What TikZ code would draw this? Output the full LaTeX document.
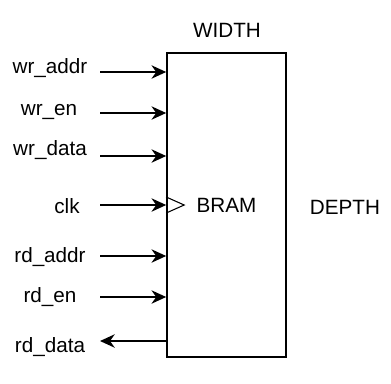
\documentclass[tikz,border=0pt]{standalone}
\usepackage{fontspec}
\setmainfont{Liberation Sans}
\usetikzlibrary{arrows.meta}
\usetikzlibrary{calc}

\begin{document}
\begin{tikzpicture}[x=0.75pt,y=-0.75pt,font=\fontsize{15.5}{18}\selectfont,
    sig/.style={line width=1.5pt,-{Stealth[length=11pt,width=10pt,inset=3.5pt]}}]
      \useasboundingbox (0,0) rectangle (391,383);
      \node[draw,line width=1.2pt,minimum width=89.25pt,minimum height=228pt,inner sep=0pt] (bram) at (226.5,205) {BRAM};
      \node (width) at (227,30) {WIDTH};
      \node (depth) at (345,207) {DEPTH};
      % port names
      \node (wraddr) at (50,68) {wr\_addr};
      \node (wren) at (49,112) {wr\_en};
      \node (wrdata) at (50,150) {wr\_data};
      \node (clk) at (67,206) {clk};
      \node (rdaddr) at (50,257) {rd\_addr};
      \node (rden) at (50,297) {rd\_en};
      \node (rddata) at (50,347) {rd\_data};
      % arrow ends on the left
      \coordinate (a1) at (100,72);
      \coordinate (a2) at (100,113);
      \coordinate (a3) at (100,156);
      \coordinate (a4) at (100,205);
      \coordinate (a5) at (100,256);
      \coordinate (a6) at (100,297);
      \coordinate (a7) at (100,341);
      \draw[sig] (a1) -- (bram.west |- a1);
      \draw[sig] (a2) -- (bram.west |- a2);
      \draw[sig] (a3) -- (bram.west |- a3);
      \draw[sig] (a4) -- (bram.west |- a4);
      \draw[sig] (a5) -- (bram.west |- a5);
      \draw[sig] (a6) -- (bram.west |- a6);
      \draw[sig] (bram.west |- a7) -- (a7);
      % clock mark
      \draw[line width=0.8pt] ($(bram.west |- a4)+(0,-8)$) -- ++(18,8) -- ++(-18,8);
\end{tikzpicture}
\end{document}
